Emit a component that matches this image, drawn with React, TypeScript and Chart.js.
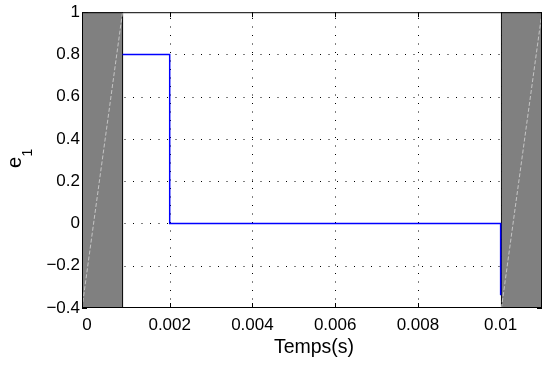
import React, { useEffect, useRef } from "react";
import { Chart, registerables } from "chart.js";

Chart.register(...registerables);

// ---- data ----
const xTicks = [0, 0.002, 0.004, 0.006, 0.008, 0.01];
const xTickLabels = ["0", "0.002", "0.004", "0.006", "0.008", "0.01"];
const yTicks = [-0.4, -0.2, 0, 0.2, 0.4, 0.6, 0.8, 1];
const yTickLabels = ["\u22120.4", "\u22120.2", "0", "0.2", "0.4", "0.6", "0.8", "1"];
const xMin = -0.00012;
const xMax = 0.011;
const yMin = -0.4;
const yMax = 1;
const xTitle = "Temps(s)";
const yTitleMain = "e";
const yTitleSub = "1";

// e1 signal (step)
const signalT = [0.00086, 0.002, 0.002, 0.01, 0.01];
const signalE = [0.8, 0.8, 0, 0, -0.34];

// shaded (dense) regions
const bandLeftT = [-0.00012, -0.00012, 0.00086, 0.00086];
const bandLeftE = [-0.4, 1, 1, -0.4];
const bandRightT = [0.01002, 0.01002, 0.011, 0.011];
const bandRightE = [-0.4, 1, 1, -0.4];
const traceLeftT = [-0.00012, 0.00086];
const traceLeftE = [-0.4, 1];
const traceRightT = [0.01002, 0.011];
const traceRightE = [-0.4, 1];

const FONT = "'Liberation Sans', Arial, Helvetica, sans-serif";

const pts = (xs: number[], ys: number[]) => xs.map((x, i) => ({ x, y: ys[i] }));

const matlabAxes = {
  id: "matlabAxes",
  beforeDatasetsDraw(chart: any) {
    const { ctx, chartArea: a, scales } = chart;
    const x = scales.x;
    const y = scales.y;
    ctx.save();
    ctx.strokeStyle = "#000";
    ctx.lineWidth = 1;
    // dotted grid
    ctx.setLineDash([1, 7.5]);
    for (const v of xTicks) {
      const px = Math.round(x.getPixelForValue(v)) + 0.5;
      if (px <= a.left + 1 || px >= a.right - 1) continue;
      ctx.beginPath();
      ctx.moveTo(px, a.bottom);
      ctx.lineTo(px, a.top);
      ctx.stroke();
    }
    for (const v of yTicks) {
      const py = Math.round(y.getPixelForValue(v)) + 0.5;
      if (py <= a.top + 1 || py >= a.bottom - 1) continue;
      ctx.beginPath();
      ctx.moveTo(a.left, py);
      ctx.lineTo(a.right, py);
      ctx.stroke();
    }
    ctx.setLineDash([]);
    // inward tick marks
    const tl = 5;
    for (const v of xTicks) {
      const px = Math.round(x.getPixelForValue(v)) + 0.5;
      ctx.beginPath();
      ctx.moveTo(px, a.bottom);
      ctx.lineTo(px, a.bottom - tl);
      ctx.moveTo(px, a.top);
      ctx.lineTo(px, a.top + tl);
      ctx.stroke();
    }
    for (const v of yTicks) {
      const py = Math.round(y.getPixelForValue(v)) + 0.5;
      ctx.beginPath();
      ctx.moveTo(a.left, py);
      ctx.lineTo(a.left + tl, py);
      ctx.moveTo(a.right, py);
      ctx.lineTo(a.right - tl, py);
      ctx.stroke();
    }
    ctx.restore();
  },
  afterDatasetsDraw(chart: any) {
    const { ctx, chartArea: a } = chart;
    ctx.save();
    ctx.strokeStyle = "#000";
    ctx.lineWidth = 1;
    ctx.strokeRect(a.left + 0.5, a.top + 0.5, a.right - a.left - 1, a.bottom - a.top - 1);
    ctx.restore();
  },
  afterDraw(chart: any) {
    const { ctx, chartArea: a } = chart;
    ctx.save();
    ctx.fillStyle = "#000";
    // x title
    ctx.font = `19.5px ${FONT}`;
    ctx.textAlign = "center";
    ctx.textBaseline = "alphabetic";
    ctx.fillText(xTitle, (a.left + a.right) / 2 + 2, 353);
    // y title with subscript
    ctx.translate(21, 168);
    ctx.rotate(-Math.PI / 2);
    ctx.textAlign = "left";
    ctx.font = `20px ${FONT}`;
    ctx.fillText(yTitleMain, 0, 0);
    const w = ctx.measureText(yTitleMain).width;
    ctx.font = `14px ${FONT}`;
    ctx.fillText(yTitleSub, w + 0.5, 11);
    ctx.restore();
  },
};

export default function App() {
  const ref = useRef<HTMLCanvasElement | null>(null);
  useEffect(() => {
    if (!ref.current) return;
    const chart = new Chart(ref.current, {
      type: "line",
      data: {
        datasets: [
          {
            data: pts(bandLeftT, bandLeftE),
            borderColor: "#111",
            backgroundColor: "#808080",
            borderWidth: 1,
            pointRadius: 0,
            fill: "start",
            order: 3,
          } as any,
          {
            data: pts(bandRightT, bandRightE),
            borderColor: "#111",
            backgroundColor: "#808080",
            borderWidth: 1,
            pointRadius: 0,
            fill: "start",
            order: 3,
          } as any,
          {
            data: pts(traceLeftT, traceLeftE),
            borderColor: "#c4c4c4",
            borderWidth: 1,
            borderDash: [4, 2],
            pointRadius: 0,
            fill: false,
            order: 2,
          } as any,
          {
            data: pts(traceRightT, traceRightE),
            borderColor: "#c4c4c4",
            borderWidth: 1,
            borderDash: [4, 2],
            pointRadius: 0,
            fill: false,
            order: 2,
          } as any,
          {
            data: pts(signalT, signalE),
            borderColor: "rgb(0, 0, 255)",
            backgroundColor: "rgb(0, 0, 255)",
            borderWidth: 1.5,
            pointRadius: 0,
            fill: false,
            order: 1,
          } as any,
        ],
      },
      options: {
        responsive: false,
        animation: false,
        devicePixelRatio: 1,
        layout: { padding: { left: 0, right: 5, top: 9, bottom: 0 } },
        plugins: { legend: { display: false }, tooltip: { enabled: false } },
        scales: {
          x: {
            type: "linear",
            min: xMin,
            max: xMax,
            grid: { display: false, drawTicks: false },
            border: { display: false },
            afterBuildTicks: (s: any) => {
              s.ticks = xTicks.map((v) => ({ value: v }));
            },
            afterFit: (s: any) => {
              s.height = 57;
            },
            ticks: {
              autoSkip: false,
              maxRotation: 0,
              padding: 7,
              color: "#000",
              font: { family: FONT, size: 17 },
              callback: (_v: any, i: number) => xTickLabels[i],
            },
          },
          y: {
            type: "linear",
            min: yMin,
            max: yMax,
            grid: { display: false, drawTicks: false },
            border: { display: false },
            afterBuildTicks: (s: any) => {
              s.ticks = yTicks.map((v) => ({ value: v }));
            },
            afterFit: (s: any) => {
              s.width = 82;
            },
            ticks: {
              autoSkip: false,
              padding: 2,
              color: "#000",
              font: { family: FONT, size: 17 },
              callback: (_v: any, i: number) => yTickLabels[i],
            },
          },
        },
      } as any,
      plugins: [matlabAxes],
    });
    return () => chart.destroy();
  }, []);
  return (
    <div style={{ position: "fixed", left: 0, top: 0, width: 547, height: 365, background: "#fff" }}>
      <canvas ref={ref} width={547} height={365} style={{ display: "block" }} />
    </div>
  );
}
